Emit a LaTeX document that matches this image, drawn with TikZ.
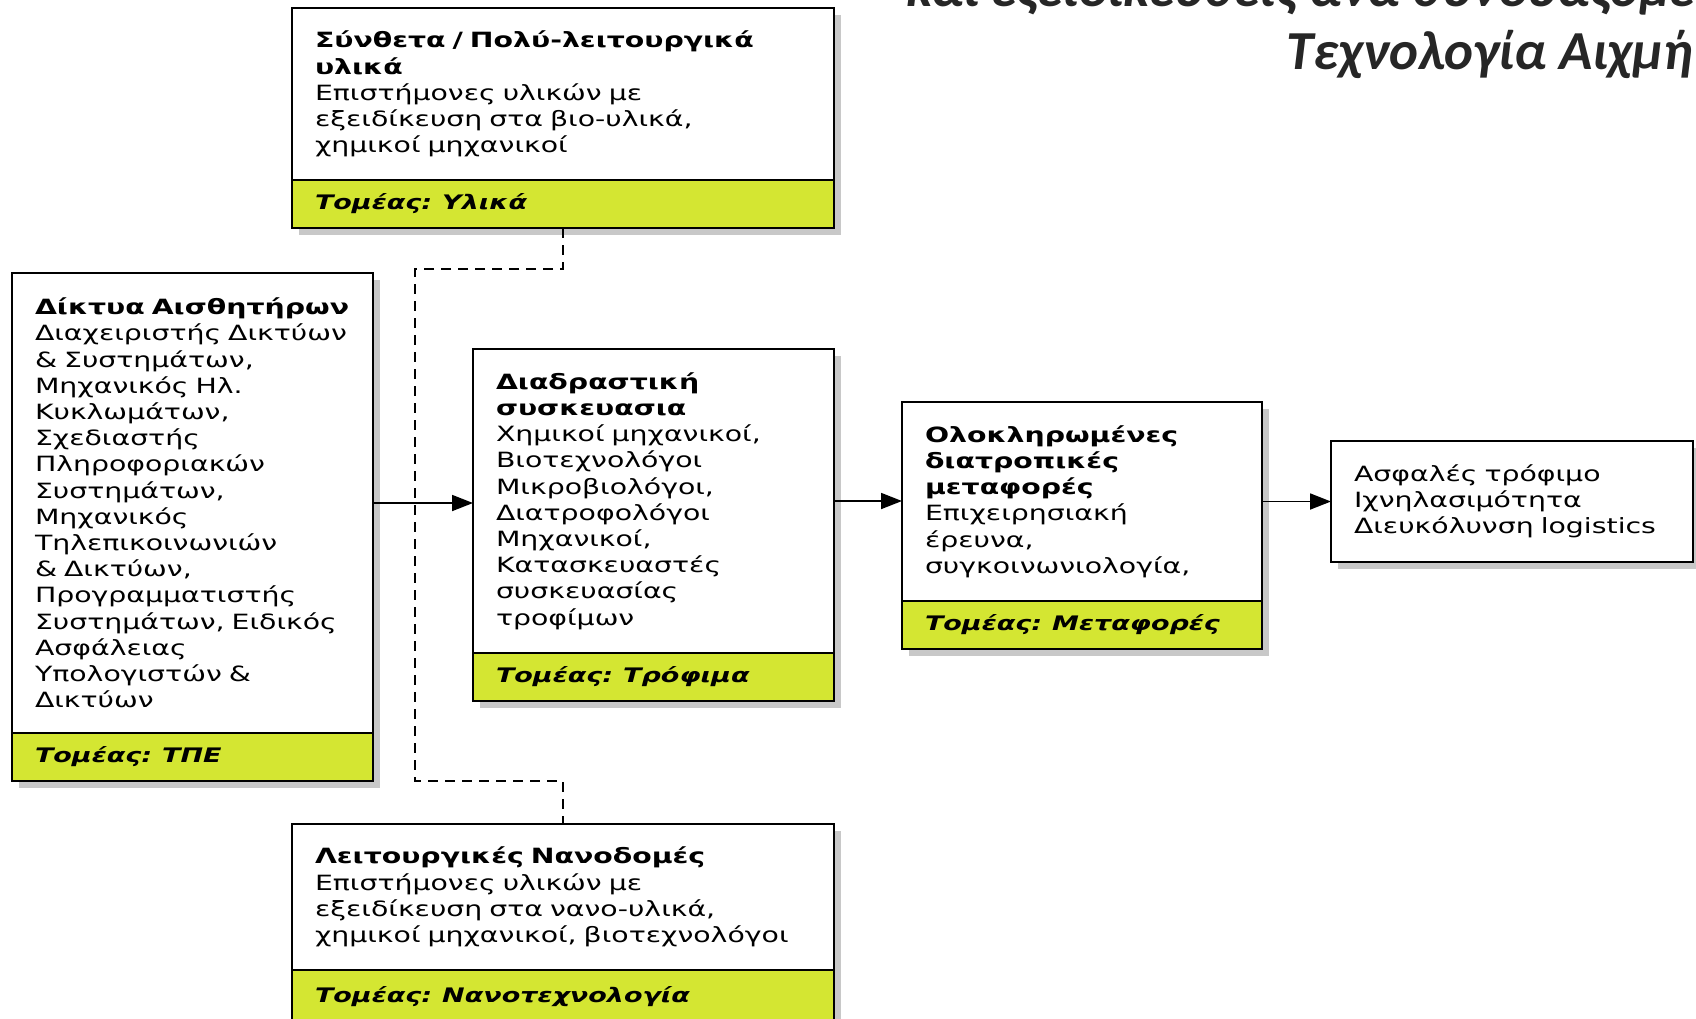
\documentclass[tikz,border=0pt]{standalone}
\usepackage{fontspec}
\setmainfont{DejaVu Sans}[FakeStretch=1.35]
\newfontfamily\titlefont{Carlito}
\usepackage{xcolor}
\usetikzlibrary{arrows.meta, positioning, shadows}
\definecolor{sectgreen}{RGB}{212,230,50}
\definecolor{shadegray}{RGB}{200,200,200}
\definecolor{titlegray}{RGB}{38,38,38}

\begin{document}
\begin{tikzpicture}[
  x=1pt, y=-1pt,
  font=\fontsize{21}{26.2}\selectfont,
  box/.style={draw, line width=2.5pt, fill=white, align=left, outer sep=0pt,
              inner xsep=23pt, inner ysep=0pt, anchor=north west,
              drop shadow={shadow xshift=7pt, shadow yshift=-7pt,
                           fill=shadegray, opacity=1}},
  sector/.style={box, anchor=north, fill=sectgreen, minimum height=48pt,
                 font=\fontsize{20}{24}\selectfont\bfseries\itshape},
  arr/.style={-{Triangle[length=21pt,width=16pt]}, line width=1.8pt},
  dashlink/.style={line width=2pt, dash pattern=on 10pt off 7pt},
  title/.style={text=titlegray,
                font=\titlefont\bfseries\itshape\fontsize{55}{64}\selectfont}]

  \useasboundingbox (0,0) rectangle (1696,1018);

  % heading, cut by the page edge
  \node[title, anchor=base west] (head1) at (903,6)
    {και εξειδικεύσεις ανά συνδυαζόμενη};
  \node[title, anchor=base east] (head2) at (1696,69) {Τεχνολογία Αιχμή};

  % technology boxes
  \node[box, minimum width=542pt, minimum height=172pt, text width=496pt]
    (mat) at (292,8) {\textbf{Σύνθετα / Πολύ-λειτουργικά\\ υλικά}\\
     Επιστήμονες υλικών με\\ εξειδίκευση στα βιο-υλικά,\\ χημικοί μηχανικοί};
  \node[sector, minimum width=542pt, text width=496pt, below=0pt of mat]
    (matsec) {Τομέας: Υλικά};

  \node[box, minimum width=361pt, minimum height=460pt, text width=315pt]
    (ict) at (12,273) {\textbf{Δίκτυα Αισθητήρων}\\ Διαχειριστής Δικτύων\\
     \& Συστημάτων,\\ Μηχανικός Ηλ.\\ Κυκλωμάτων,\\ Σχεδιαστής\\
     Πληροφοριακών\\ Συστημάτων,\\ Μηχανικός\\ Τηλεπικοινωνιών\\
     \& Δικτύων,\\ Προγραμματιστής\\ Συστημάτων, Ειδικός\\ Ασφάλειας\\
     Υπολογιστών \&\\ Δικτύων};
  \node[sector, minimum width=361pt, text width=315pt, below=0pt of ict]
    (ictsec) {Τομέας: ΤΠΕ};

  \node[box, minimum width=361pt, minimum height=304pt, text width=315pt]
    (pack) at (473,349) {\textbf{Διαδραστική\\ συσκευασια}\\
     Χημικοί μηχανικοί,\\ Βιοτεχνολόγοι\\ Μικροβιολόγοι,\\ Διατροφολόγοι\\
     Μηχανικοί,\\ Κατασκευαστές\\ συσκευασίας\\ τροφίμων};
  \node[sector, minimum width=361pt, text width=315pt, below=0pt of pack]
    (packsec) {Τομέας: Τρόφιμα};

  \node[box, minimum width=360pt, minimum height=199pt, text width=314pt]
    (trans) at (902,402) {\textbf{Ολοκληρωμένες\\ διατροπικές\\ μεταφορές}\\
     Επιχειρησιακή\\ έρευνα,\\ συγκοινωνιολογία,};
  \node[sector, minimum width=360pt, text width=314pt, below=0pt of trans]
    (transsec) {Τομέας: Μεταφορές};

  \node[box, minimum width=362pt, minimum height=121pt, text width=316pt]
    (out) at (1331,441) {Ασφαλές τρόφιμο\\ Ιχνηλασιμότητα\\
     Διευκόλυνση logistics};

  \node[box, minimum width=542pt, minimum height=146pt, text width=496pt]
    (nano) at (292,824) {\textbf{Λειτουργικές Νανοδομές}\\
     Επιστήμονες υλικών με\\ εξειδίκευση στα νανο-υλικά,\\
     χημικοί μηχανικοί, βιοτεχνολόγοι};
  \node[sector, minimum width=542pt, text width=496pt, minimum height=62pt,
        text depth=14pt, below=0pt of nano]
    (nanosec) {Τομέας: Νανοτεχνολογία};

  % dashed link between materials and nano
  \coordinate (dtop) at (415,269);
  \coordinate (dbot) at (415,781);
  \draw[dashlink] (matsec.south) |- (dtop) -- (dbot) -| (nano.north);

  % main chain
  \draw[arr] (ict.east) -- (ict.east -| pack.west);
  \draw[arr] (pack.east) -- (pack.east -| trans.west);
  \draw[arr] (trans.east) -- (trans.east -| out.west);
\end{tikzpicture}
\end{document}
